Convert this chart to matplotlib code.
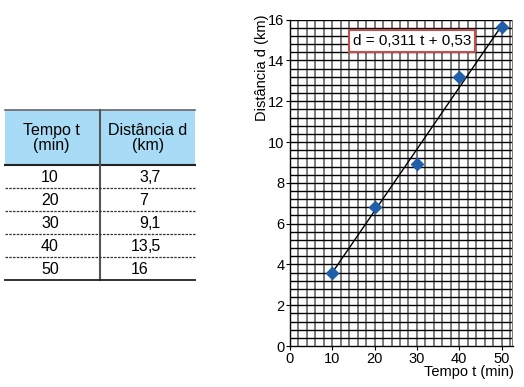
import numpy as np
import matplotlib
matplotlib.use("Agg")
import matplotlib.pyplot as plt
from matplotlib.patches import Rectangle
from matplotlib.lines import Line2D

plt.rcParams['font.family'] = ['Liberation Sans', 'DejaVu Sans']

# dados da tabela
tempo = [10, 20, 30, 40, 50]
distancia_txt = ['3,7', '7', '9,1', '13,5', '16']
# pontos como aparecem no gráfico
pontos_d = [3.6, 6.8, 8.9, 13.2, 15.65]
# reta de ajuste (extremos)
reta_t = [10, 50]
reta_d = [3.6, 15.7]
equacao = 'd = 0,311 t + 0,53'

W, H = 524, 387
fig = plt.figure(figsize=(W / 100, H / 100), dpi=100)
fig.set_facecolor('white')

def fx(x):
    return x / W

def fy(y):
    return 1 - y / H

# ---- tabela ----
x0, x1, xm = 5, 195, 100
y_top, y_head = 110, 165
row_h = 23
fs_tab = 11.5
fig.patches.append(Rectangle((fx(x0), fy(y_head)), fx(x1 - x0), (y_head - y_top) / H,
                             transform=fig.transFigure, facecolor='#a8dcf6', edgecolor='none'))
fig.add_artist(Line2D([fx(x0), fx(x1)], [fy(y_top)] * 2, color='#666666', lw=1.2))
fig.add_artist(Line2D([fx(x0), fx(x1)], [fy(y_head)] * 2, color='#222222', lw=1.5))
y_bot = y_head + row_h * len(tempo)
fig.add_artist(Line2D([fx(xm)] * 2, [fy(y_top), fy(y_bot)], color='#555555', lw=1.5))
for i in range(1, len(tempo)):
    yy = y_head + row_h * i
    fig.add_artist(Line2D([fx(x0), fx(x1)], [fy(yy)] * 2, color='#333333', lw=0.9,
                          linestyle=(0, (2, 1))))
fig.add_artist(Line2D([fx(x0), fx(x1)], [fy(y_bot)] * 2, color='#222222', lw=1.3))

fig.text(fx(51), fy(138), 'Tempo t\n(min)', ha='center', va='center', fontsize=fs_tab,
         linespacing=1.05)
fig.text(fx(148), fy(138), 'Distância d\n(km)', ha='center', va='center', fontsize=fs_tab,
         linespacing=1.05)
for i, (t, d) in enumerate(zip(tempo, distancia_txt)):
    yc = y_head + row_h * i + row_h / 2 + 1
    fig.text(fx(50), fy(yc), str(t), ha='center', va='center', fontsize=fs_tab)
    inteiro, _, dec = d.partition(',')
    fig.text(fx(148), fy(yc), inteiro, ha='right', va='center', fontsize=fs_tab)
    if dec:
        fig.text(fx(148), fy(yc), ',' + dec, ha='left', va='center', fontsize=fs_tab)

# ---- gráfico ----
ax = fig.add_axes([fx(290), fy(346), fx(513 - 290), (346 - 19.7) / H])
xmax = 52.7
ax.set_xlim(0, xmax)
ax.set_ylim(0, 16)
for xv in np.arange(2, 53, 2):
    ax.axvline(xv, color='#7a7a7a', lw=1.4, zorder=1)
for yv in np.arange(0.4, 16.01, 0.4):
    ax.axhline(yv, color='black', lw=1.0, zorder=1)
ax.axvline(xmax, color='#7a7a7a', lw=1.4, zorder=1)

ax.plot(reta_t, reta_d, color='black', lw=1.0, zorder=3)
ax.plot(tempo, pontos_d, linestyle='none', marker='D', markersize=6,
        color='#1f5ea8', zorder=4)

ax.set_xticks([0, 10, 20, 30, 40, 50])
ax.set_yticks(range(0, 17, 2))
ax.tick_params(length=3, width=0.8, labelsize=10.5, pad=1, direction='out')
for s in ['top', 'right']:
    ax.spines[s].set_visible(False)
for s in ['left', 'bottom']:
    ax.spines[s].set_linewidth(1.0)

ax.text(28.8, 14.95, equacao, ha='center', va='center', fontsize=11, zorder=5,
        bbox=dict(boxstyle='square,pad=0.25', facecolor='white', edgecolor='#c0504d', lw=1.5))

fig.text(fx(262), fy(68), 'Distância d (km)', rotation=90, ha='center', va='center',
         fontsize=10.5)
fig.text(fx(514), fy(372), 'Tempo t (min)', ha='right', va='center', fontsize=10.5)

fig.savefig('out.png', dpi=100)
